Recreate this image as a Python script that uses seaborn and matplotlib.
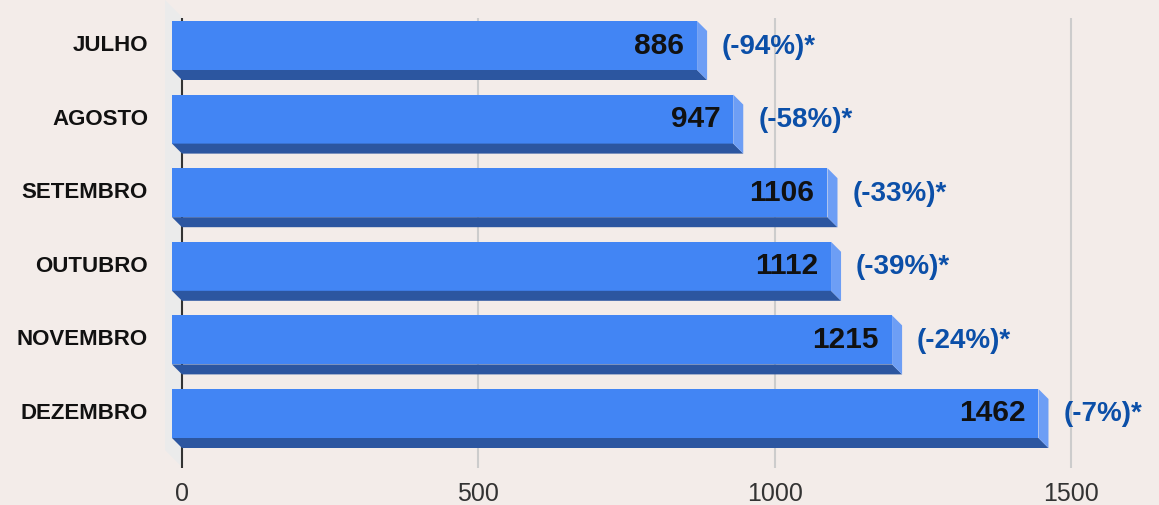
import matplotlib
matplotlib.use('Agg')
import matplotlib.pyplot as plt
import seaborn as sns
import pandas as pd
from matplotlib.patches import Polygon

meses = ["JULHO", "AGOSTO", "SETEMBRO", "OUTUBRO", "NOVEMBRO", "DEZEMBRO"]
valores = [886, 947, 1106, 1112, 1215, 1462]
variacao = ["(-94%)*", "(-58%)*", "(-33%)*", "(-39%)*", "(-24%)*", "(-7%)*"]
ticks = [0, 500, 1000, 1500]

sns.set_style("white")
plt.rcParams['font.family'] = ['Liberation Sans', 'DejaVu Sans']

fundo = '#f3ece9'
azul = '#4285f4'
azul_escuro = '#2c56a0'
azul_claro = '#6d9ef5'

# geometria em pixels (figura 1159x505 a 100 dpi)
W, H = 1159, 505
escala = 889 / 1500      # px por unidade
passo = 73.6             # px entre categorias
c0 = 55.5                # centro da primeira barra (face de tras)

def px(x, y):
    return ((x - 182) / escala, (y - c0) / passo)

fig = plt.figure(figsize=(W / 100, H / 100), dpi=100, facecolor=fundo)
ax = fig.add_axes([0, 0, 1, 1])

df = pd.DataFrame({'mes': meses, 'valor': valores})
sns.barplot(data=df, x='valor', y='mes', orient='h', color=azul, saturation=1,
            width=49 / passo, linewidth=0, ax=ax, zorder=3)
barras = sorted(list(ax.patches), key=lambda p: p.get_y())

ax.set_xlim(px(0, 0)[0], px(W, 0)[0])
ax.set_ylim(px(0, H)[1], px(0, 0)[1])
ax.axis('off')

dx = 10 / escala
dy = 10 / passo

# parede lateral clara
parede = [px(165, 0), px(182, 17), px(182, 467), px(165, 450)]
ax.add_patch(Polygon(parede, closed=True, color='#ebebeb', lw=0, zorder=0.5))

# grade e eixo
y_ini, y_fim = px(0, 18)[1], px(0, 468)[1]
ax.vlines([500, 1000, 1500], y_ini, y_fim, color='#cccccc', lw=1.5, zorder=1)
ax.vlines(0, y_ini, y_fim, color='#333333', lw=1.5, zorder=1.5)

for i, p in enumerate(barras):
    v = p.get_width()
    yb = p.get_y()
    h = p.get_height()
    # face da frente deslocada para cima/esquerda
    p.set_x(p.get_x() - dx)
    p.set_y(yb - dy)
    base = [(-dx, yb + h - dy), (v - dx, yb + h - dy), (v, yb + h), (0, yb + h)]
    lado = [(v - dx, yb - dy), (v, yb), (v, yb + h), (v - dx, yb + h - dy)]
    ax.add_patch(Polygon(base, closed=True, color=azul_escuro, lw=0, zorder=3))
    ax.add_patch(Polygon(lado, closed=True, color=azul_claro, lw=0, zorder=3))

    yc = yb + h / 2 - dy
    ax.text(v - dx - 13 / escala, yc, str(valores[i]), ha='right', va='center',
            fontsize=21.5, fontweight='bold', color='#111111', zorder=4)
    ax.text(v + 15 / escala, yc + 1 / passo, variacao[i], ha='left', va='center',
            fontsize=20, fontweight='bold', color='#0b4fa8', zorder=4)
    ax.text(px(148, 0)[0], yc, meses[i], ha='right', va='center',
            fontsize=16, fontweight='bold', color='#111111', zorder=4)

for t in ticks:
    ax.text(t, px(0, 482)[1], str(t), ha='center', va='top',
            fontsize=18, color='#333333')

fig.savefig('out.png', dpi=100, facecolor=fundo)
